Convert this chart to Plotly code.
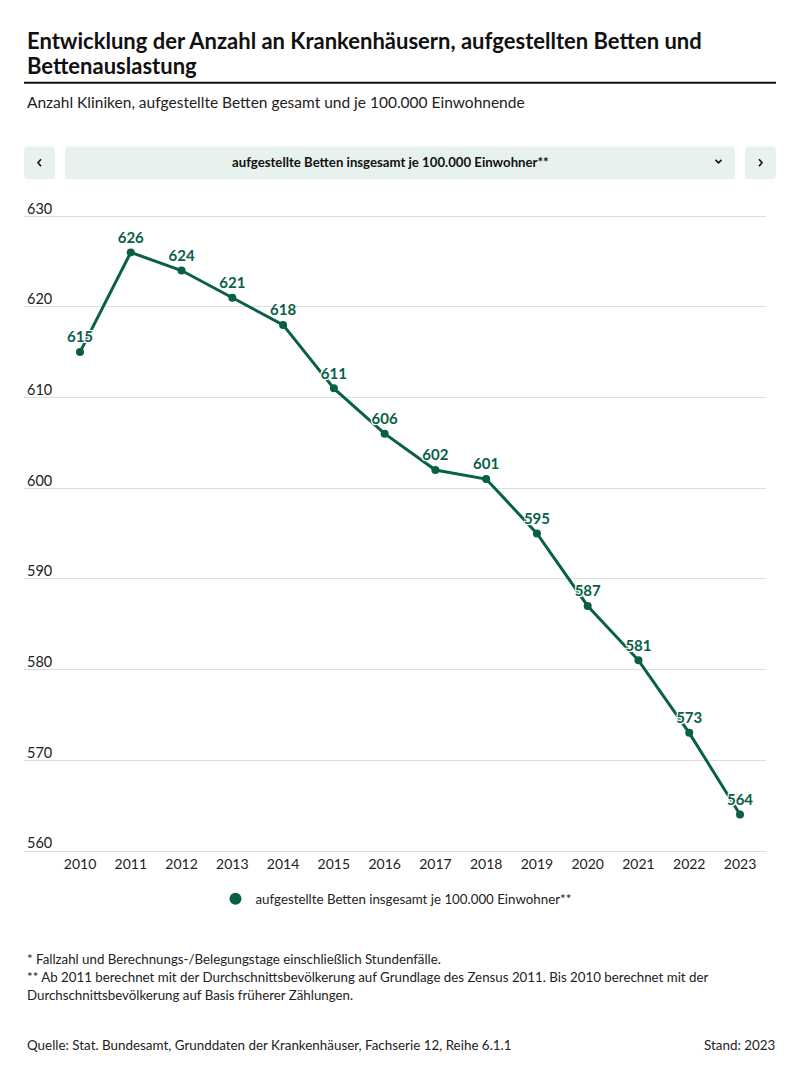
import plotly.graph_objects as go

years = [2010, 2011, 2012, 2013, 2014, 2015, 2016, 2017, 2018, 2019, 2020, 2021, 2022, 2023]
betten = [615, 626, 624, 621, 618, 611, 606, 602, 601, 595, 587, 581, 573, 564]
series_name = "aufgestellte Betten insgesamt je 100.000 Einwohner**"
y_ticks = [560, 570, 580, 590, 600, 610, 620, 630]

GREEN = "#0a6045"
FONT = "Lato"
OFF = 8  # page body offset
W, H = 800 - 2 * OFF, 1082 - 2 * OFF
Y0, Y1 = 560, 632
PPU = (853 - 216) / 70.0
SL, SR, SB = 24, 766, 853
ST = SB - (Y1 - Y0) * PPU  # plot area top in screen px
L, R, T, B = SL - OFF, W - (SR - OFF), ST - OFF, H - (SB - OFF)


def px(x):
    return (x - SL) / (SR - SL)


def py(y):
    return (SB - y) / (SB - ST)


fig = go.Figure()
fig.add_trace(go.Scatter(
    x=years, y=betten, mode="lines+markers+text",
    line=dict(color=GREEN, width=3),
    marker=dict(color=GREEN, size=8),
    text=[str(v) for v in betten], textposition="top center",
    textfont=dict(family=FONT, size=15, color=GREEN, weight="bold",
                  shadow="1px 1px 0 white, -1px -1px 0 white, 1px -1px 0 white, -1px 1px 0 white, 0 0 3px white"),
    showlegend=False, cliponaxis=False, hoverinfo="x+y",
))
fig.add_trace(go.Scatter(
    x=[None], y=[None], mode="markers", name=series_name,
    marker=dict(color=GREEN, size=13), showlegend=True,
))


def rrect(x0, y0, x1, y1, r=4):
    pts = (f"M {px(x0+r)},{py(y0)} L {px(x1-r)},{py(y0)} "
           f"Q {px(x1)},{py(y0)} {px(x1)},{py(y0+r)} L {px(x1)},{py(y1-r)} "
           f"Q {px(x1)},{py(y1)} {px(x1-r)},{py(y1)} L {px(x0+r)},{py(y1)} "
           f"Q {px(x0)},{py(y1)} {px(x0)},{py(y1-r)} L {px(x0)},{py(y0+r)} "
           f"Q {px(x0)},{py(y0)} {px(x0+r)},{py(y0)} Z")
    return dict(type="path", path=pts, xref="paper", yref="paper",
                fillcolor="#e7f2ef", line=dict(width=0), layer="below")


shapes = [
    dict(type="line", xref="paper", yref="paper", x0=px(24), x1=px(776), y0=py(82), y1=py(82),
         line=dict(color="#111111", width=2)),
    rrect(24, 146, 55, 179),
    rrect(65, 146, 735, 179),
    rrect(745, 146, 776, 179),
    dict(type="path", xref="paper", yref="paper",
         path=f"M {px(715.5)},{py(159.5)} L {px(718.5)},{py(162.5)} L {px(721.5)},{py(159.5)}",
         line=dict(color="#111111", width=1.6)),
    dict(type="path", xref="paper", yref="paper",
         path=f"M {px(41)},{py(159)} L {px(38)},{py(162.5)} L {px(41)},{py(166)}",
         line=dict(color="#111111", width=1.6)),
    dict(type="path", xref="paper", yref="paper",
         path=f"M {px(759)},{py(159)} L {px(762)},{py(162.5)} L {px(759)},{py(166)}",
         line=dict(color="#111111", width=1.6)),
]


def ann(text, x, y, size=12, color="#222222", xanchor="left", weight="normal"):
    return dict(text=text, xref="paper", yref="paper", x=px(x), y=py(y), xanchor=xanchor,
                yanchor="middle", showarrow=False,
                font=dict(family=FONT, size=size, color=color, weight=weight))


annotations = [
    ann("Entwicklung der Anzahl an Krankenhäusern, aufgestellten Betten und", 25, 40, size=22, color="#111111", weight="bold"),
    ann("Bettenauslastung", 25, 65, size=22, color="#111111", weight="bold"),
    ann("Anzahl Kliniken, aufgestellte Betten gesamt und je 100.000 Einwohnende", 25, 101, size=15.5, color="#222222"),
    ann(series_name, 390, 162, size=13.2, color="#111111", xanchor="center", weight="bold"),
    ann("* Fallzahl und Berechnungs-/Belegungstage einschließlich Stundenfälle.", 25, 962, size=13.3),
    ann("** Ab 2011 berechnet mit der Durchschnittsbevölkerung auf Grundlage des Zensus 2011. Bis 2010 berechnet mit der", 25, 980, size=13.3),
    ann("Durchschnittsbevölkerung auf Basis früherer Zählungen.", 25, 998, size=13.3),
    ann("Quelle: Stat. Bundesamt, Grunddaten der Krankenhäuser, Fachserie 12, Reihe 6.1.1", 25, 1048, size=13.4),
    ann("Stand: 2023", 777, 1048, size=13.4, xanchor="right"),
]
# y-axis tick labels, placed above their gridlines on the left
for v in y_ticks:
    annotations.append(dict(text=str(v), xref="paper", yref="y", x=px(25), y=v, xanchor="left",
                            yanchor="middle", yshift=8, showarrow=False,
                            font=dict(family=FONT, size=14.5, color="#222222")))

fig.update_layout(
    width=W, height=H,
    margin=dict(l=L, r=R, t=T, b=B),
    paper_bgcolor="white", plot_bgcolor="white",
    font=dict(family=FONT, size=13, color="#222222"),
    shapes=shapes, annotations=annotations,
    legend=dict(orientation="h", xref="container", yref="container", x=(396 - OFF) / W, xanchor="center",
                y=1 - (899 - OFF) / H, yanchor="middle", itemsizing="constant",
                font=dict(family=FONT, size=13.3, color="#222222")),
    xaxis=dict(range=[2008.897, 2023.512], tickmode="array", tickvals=years,
               ticktext=[str(y) for y in years], showgrid=False, zeroline=False,
               showline=True, linecolor="#dddddd", linewidth=1, ticks="",
               tickfont=dict(family=FONT, size=14, color="#222222")),
    yaxis=dict(range=[Y0, Y1], tickmode="array", tickvals=y_ticks,
               showgrid=True, gridcolor="#dddddd", gridwidth=1, zeroline=False,
               showticklabels=False, ticks=""),
)

fig.write_html("out.html")
